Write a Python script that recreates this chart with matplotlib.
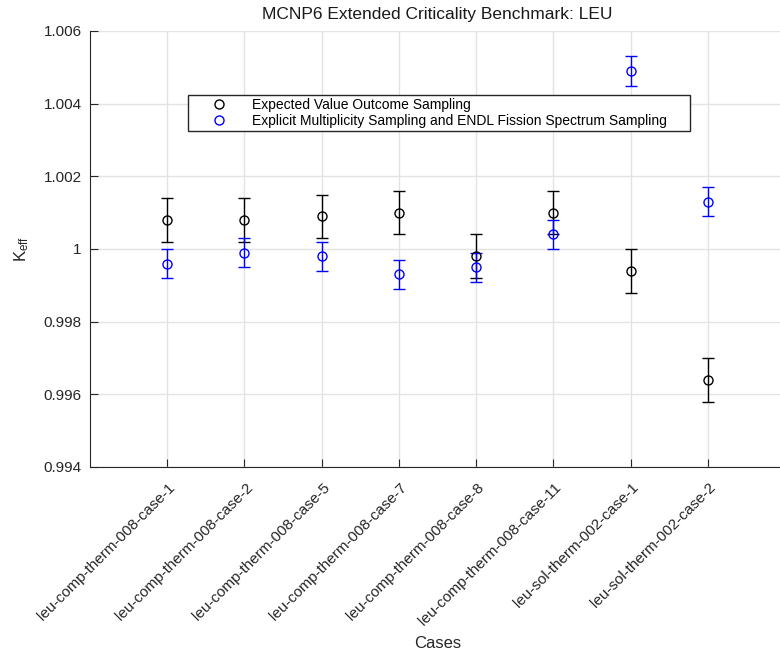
import matplotlib
matplotlib.use("Agg")
import matplotlib.pyplot as plt
from matplotlib.lines import Line2D
from matplotlib.transforms import ScaledTranslation
import numpy as np

plt.rcParams['font.family'] = ['Liberation Sans', 'DejaVu Sans']

cases = ["leu-comp-therm-008-case-1", "leu-comp-therm-008-case-2", "leu-comp-therm-008-case-5",
         "leu-comp-therm-008-case-7", "leu-comp-therm-008-case-8", "leu-comp-therm-008-case-11",
         "leu-sol-therm-002-case-1", "leu-sol-therm-002-case-2"]
ev_keff = [1.0008, 1.0008, 1.0009, 1.0010, 0.9998, 1.0010, 0.9994, 0.9964]
ev_err = [0.0006, 0.0006, 0.0006, 0.0006, 0.0006, 0.0006, 0.0006, 0.0006]
ems_keff = [0.9996, 0.9999, 0.9998, 0.9993, 0.9995, 1.0004, 1.0049, 1.0013]
ems_err = [0.0004, 0.0004, 0.0004, 0.0004, 0.0004, 0.0004, 0.0004, 0.0004]
labels = ["Expected Value Outcome Sampling",
          "Explicit Multiplicity Sampling and ENDL Fission Spectrum Sampling"]
ytick_vals = [0.994, 0.996, 0.998, 1.0, 1.002, 1.004, 1.006]
ytick_labels = ["0.994", "0.996", "0.998", "1", "1.002", "1.004", "1.006"]

W, H = 780, 657
fig = plt.figure(figsize=(W/100, H/100), dpi=100)
ax_l, ax_t, ax_b, ax_w = 90, 31, 467, 695
ax = fig.add_axes([ax_l/W, 1 - ax_b/H, ax_w/W, (ax_b-ax_t)/H])

x = np.arange(1, len(cases) + 1)
ax.errorbar(x, ev_keff, yerr=ev_err, fmt='o', color='black', mfc='none', ms=6.5,
            mew=1.0, elinewidth=1.0, capsize=4.5, capthick=1.0, zorder=3)
ax.errorbar(x, ems_keff, yerr=ems_err, fmt='o', color='blue', mfc='none', ms=6.5,
            mew=1.0, elinewidth=1.0, capsize=4.5, capthick=1.0, zorder=3)

ax.set_xlim(0, 9)
ax.set_ylim(0.994, 1.006)
ax.set_xticks(x)
ax.set_xticklabels(cases, rotation=45, ha='right', va='top', rotation_mode='anchor', fontsize=11)
ax.set_yticks(ytick_vals)
ax.set_yticklabels(ytick_labels, fontsize=11)
ax.grid(True, color='#e3e3e3', linewidth=1.0)
ax.set_axisbelow(True)
for s in ['top', 'right']:
    ax.spines[s].set_visible(False)
for s in ['left', 'bottom']:
    ax.spines[s].set_color('#262626')
ax.tick_params(direction='in', length=6, width=0.8, colors='#262626', labelcolor='#262626')
ax.tick_params(axis='y', pad=6)
ax.tick_params(axis='x', pad=9.5)
off = ScaledTranslation(1/100, 0, fig.dpi_scale_trans)
for lab in ax.get_xticklabels():
    lab.set_transform(lab.get_transform() + off)

ax.set_title("MCNP6 Extended Criticality Benchmark: LEU", fontsize=12.5, color='#1a1a1a', pad=9)
ax.set_xlabel("Cases", fontsize=12, color='#262626')
ax.xaxis.set_label_coords(0.5, -(636 - ax_b)/(ax_b - ax_t))
ax.set_ylabel("$\\mathregular{K_{eff}}$", fontsize=12, color='#262626')
ax.yaxis.set_label_coords(-(ax_l - 31)/ax_w, 0.5)

handles = [Line2D([], [], ls='none', marker='o', mfc='none', mec='black', ms=6.5),
           Line2D([], [], ls='none', marker='o', mfc='none', mec='blue', ms=6.5)]
leg_l, leg_r, leg_t, leg_b = 188, 690, 95, 133
leg = ax.legend(handles, labels, loc='upper left', mode='expand',
                bbox_to_anchor=((leg_l-ax_l)/ax_w, (ax_b-leg_b)/(ax_b-ax_t),
                                (leg_r-leg_l)/ax_w, (leg_b-leg_t)/(ax_b-ax_t)),
                borderaxespad=0, fancybox=False, edgecolor='#262626', fontsize=10,
                handlelength=4.1, handletextpad=0.3, labelspacing=0.15, borderpad=0.2,
                framealpha=1)
leg.get_frame().set_linewidth(1.0)

fig.savefig("out.png", dpi=100)
